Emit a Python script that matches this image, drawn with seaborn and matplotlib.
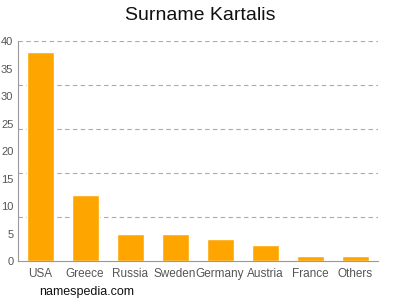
import matplotlib
matplotlib.use("Agg")
import matplotlib.pyplot as plt
import seaborn as sns
import pandas as pd

categories = ["USA", "Greece", "Russia", "Sweden", "Germany", "Austria", "France", "Others"]
values = [38, 12, 5, 5, 4, 3, 1, 1]
y_ticks = [0, 5, 10, 15, 20, 25, 30, 35, 40]
grid_levels = [8, 16, 24, 32, 40]

sns.set_style("white")
plt.rcParams['font.family'] = ['Liberation Sans', 'DejaVu Sans']

df = pd.DataFrame({"country": categories, "count": values})

fig = plt.figure(figsize=(4, 3), dpi=100)
ax = fig.add_axes([0.0438, 0.13, 0.9, 0.7333])

for g in grid_levels:
    ax.axhline(g, color="#aaaaaa", linestyle=(0, (4, 3)), linewidth=0.8, zorder=0)

sns.barplot(data=df, x="country", y="count", color="#FFA500", saturation=1,
            width=0.6, ax=ax, zorder=2)

ax.set_ylim(0, 40)
ax.set_xlim(-0.5, len(categories) - 0.5)
ax.set_yticks(y_ticks)
ax.set_xlabel("")
ax.set_ylabel("")
for s in ["top", "right"]:
    ax.spines[s].set_visible(False)
for s in ["left", "bottom"]:
    ax.spines[s].set_color("#999999")
    ax.spines[s].set_linewidth(0.8)
ax.tick_params(axis="x", colors="#999999", labelcolor="#555555", labelsize=8.5,
               length=3, width=0.8, pad=2)
ax.tick_params(axis="y", colors="#999999", labelcolor="#555555", labelsize=8,
               length=2.5, width=0.8, pad=0.5)

fig.text(0.5, 0.95, "Surname Kartalis", ha="center", va="center", fontsize=14, color="#111111")
fig.text(0.097, 0.027, "namespedia.com", ha="left", va="center", fontsize=9, color="#111111")

fig.savefig("out.png", dpi=100)
